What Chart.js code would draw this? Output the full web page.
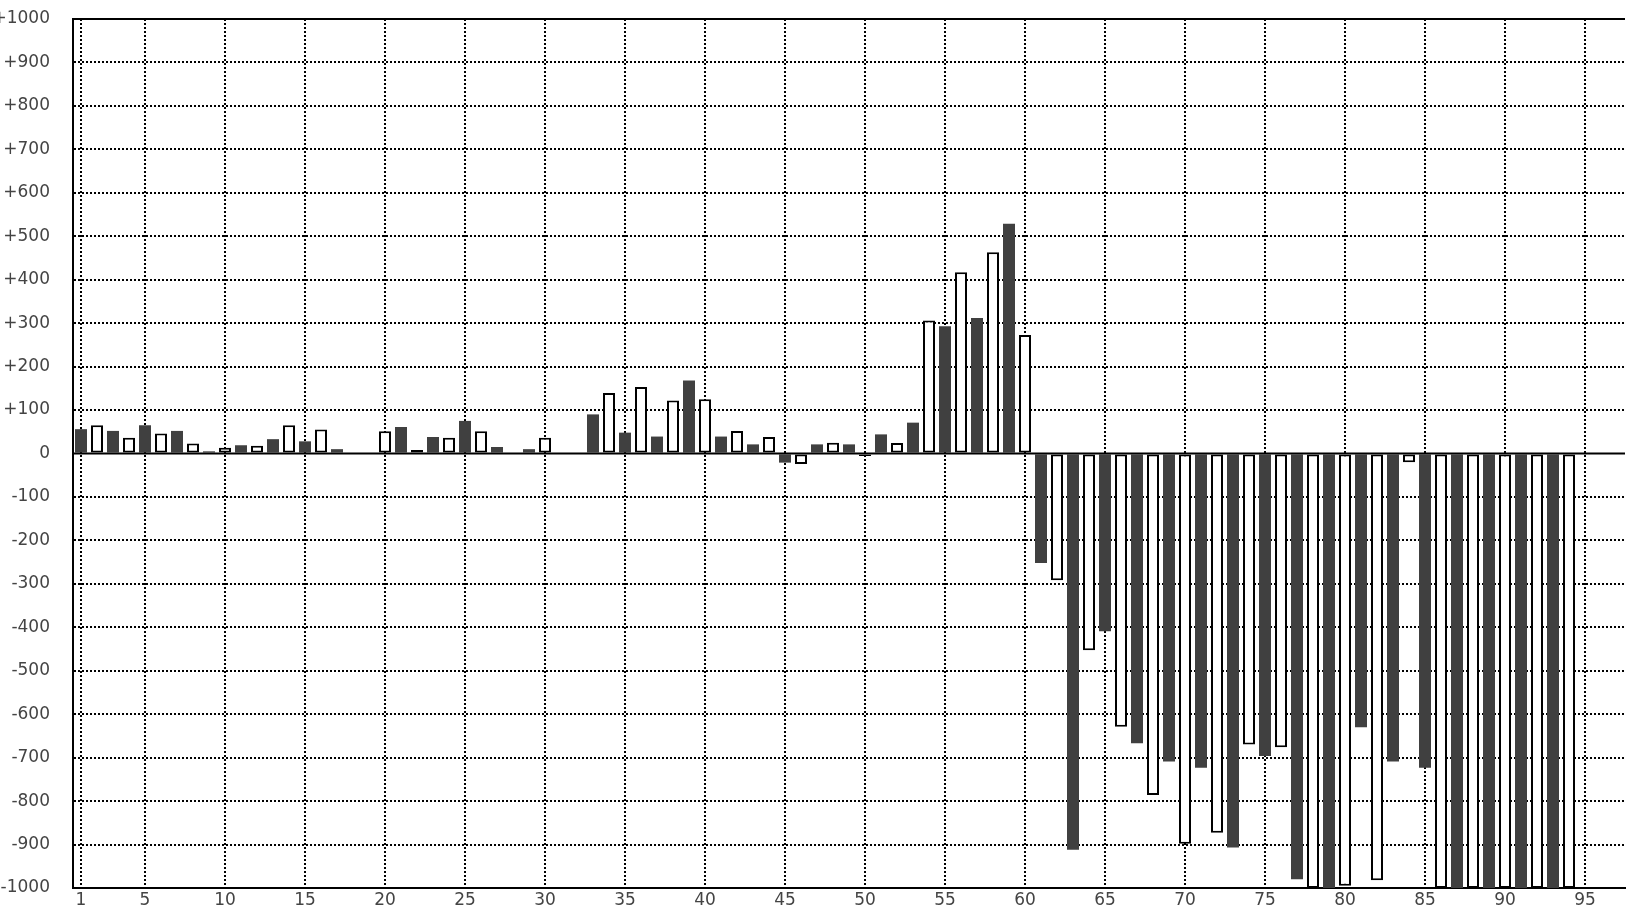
<!DOCTYPE html>
<html>
<head>
<meta charset="utf-8">
<script src="https://cdn.jsdelivr.net/npm/chart.js@4/dist/chart.umd.min.js"></script>
<style>
  html, body { margin: 0; padding: 0; background: #fff; overflow: hidden; }
  canvas { display: block; }
</style>
</head>
<body>
<canvas id="myChart" width="1626" height="910"></canvas>
<script>
// categories 1..97, only some of them get a label
var rounds = ['1','2','3','4','5','6','7','8','9','10','11','12','13','14','15','16','17','18','19','20',
  '21','22','23','24','25','26','27','28','29','30','31','32','33','34','35','36','37','38','39','40',
  '41','42','43','44','45','46','47','48','49','50','51','52','53','54','55','56','57','58','59','60',
  '61','62','63','64','65','66','67','68','69','70','71','72','73','74','75','76','77','78','79','80',
  '81','82','83','84','85','86','87','88','89','90','91','92','93','94','95','96','97'];

var shownTicks = ['1','5','10','15','20','25','30','35','40','45','50','55','60','65','70','75','80','85','90','95'];

var values = [
  56, 65, 52, 36, 65, 46, 52, 23, 5, 13,
  19, 18, 33, 65, 28, 55, 10, null, null, 51,
  61, 8, 38, 36, 75, 51, 15, null, 10, 36,
  null, null, 90, 139, 48, 153, 39, 122, 168, 125,
  39, 52, 21, 38, -21, -24, 21, 25, 21, -6,
  44, 24, 71, 306, 293, 417, 312, 463, 529, 273,
  -252, -292, -912, -453, -409, -629, -667, -786, -709, -898,
  -723, -873, -907, -670, -696, -676, -980, -1000, -1000, -995,
  -630, -982, -709, -20, -723, -1000, -1000, -1000, -1000, -1000,
  -1000, -1000, -1000, -1000, null, null, null
];

var yMin = -1000, yMax = 1000, yStep = 100;

var dark = '#404040';
var white = '#ffffff';

// solid zero line and top frame line
var frame = {
  id: 'frame',
  afterDatasetsDraw: function (chart) {
    var c = chart.ctx, a = chart.chartArea;
    var y0 = chart.scales.y.getPixelForValue(0);
    c.save();
    c.strokeStyle = '#000';
    c.lineWidth = 2;
    c.beginPath();
    c.moveTo(a.left, y0); c.lineTo(a.right, y0);
    c.moveTo(a.left - 1, a.top); c.lineTo(a.right, a.top);
    c.stroke();
    c.restore();
  }
};

var ctx = document.getElementById('myChart').getContext('2d');
var chart = new Chart(ctx, {
  type: 'bar',
  data: {
    labels: rounds,
    datasets: [{
      data: values,
      backgroundColor: function (c) { return c.dataIndex % 2 === 0 ? dark : white; },
      borderColor: '#000',
      borderWidth: function (c) { return c.dataIndex % 2 === 0 ? 0 : 2; },
      borderSkipped: false,
      barPercentage: 0.75,
      categoryPercentage: 1
    }]
  },
  options: {
    responsive: false,
    animation: false,
    layout: { padding: { left: 0, top: 19, right: 1, bottom: 0 } },
    plugins: { legend: { display: false }, tooltip: { enabled: false } },
    scales: {
      x: {
        offset: true,
        grid: {
          offset: false,
          drawTicks: false,
          lineWidth: 2,
          color: function (c) {
            return shownTicks.indexOf(rounds[c.index]) >= 0 ? '#000' : 'rgba(0,0,0,0)';
          }
        },
        border: { display: true, color: '#000', width: 2, dash: [2, 2] },
        ticks: {
          autoSkip: false,
          maxRotation: 0,
          padding: 2,
          color: '#444',
          font: { family: 'DejaVu Sans', size: 17 },
          callback: function (v, i) {
            return shownTicks.indexOf(rounds[i]) >= 0 ? rounds[i] : '';
          }
        },
        afterFit: function (s) { s.height = 22; s.paddingLeft = 0; s.paddingRight = 0; }
      },
      y: {
        min: yMin,
        max: yMax,
        grid: {
          drawTicks: false,
          lineWidth: 2,
          color: function (c) {
            return c.tick && c.tick.value === 0 ? 'rgba(0,0,0,0)' : '#000';
          }
        },
        border: { display: true, color: '#000', width: 2, dash: [2, 2] },
        ticks: {
          stepSize: yStep,
          padding: 23,
          color: '#444',
          font: { family: 'DejaVu Sans', size: 17 },
          callback: function (v) { return v > 0 ? '+' + v : String(v); }
        },
        afterFit: function (s) { s.width = 73; s.paddingTop = 0; s.paddingBottom = 0; }
      }
    }
  },
  plugins: [frame]
});
</script>
</body>
</html>
